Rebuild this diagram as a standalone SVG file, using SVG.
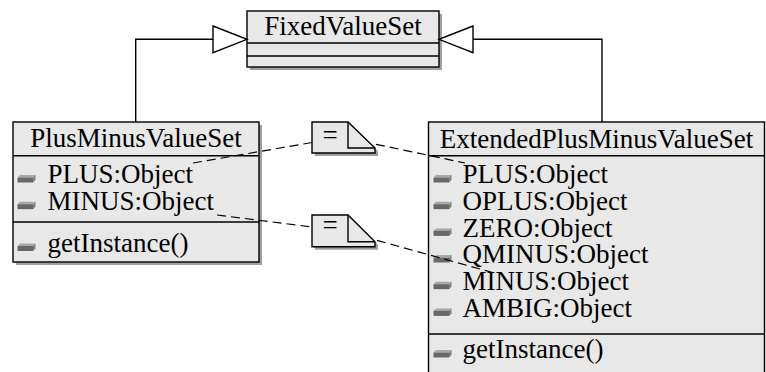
<svg xmlns="http://www.w3.org/2000/svg" width="766" height="372" viewBox="0 0 766 372">
<style>
.box{fill:#e8e8e8;stroke:#000;stroke-width:1.4}
.sh{fill:#a0a0a0}
.ln{fill:none;stroke:#000;stroke-width:1.4}
.dash{fill:none;stroke:#000;stroke-width:1.2;stroke-dasharray:9,5}
.tri{fill:#fff;stroke:#000;stroke-width:1.4}
text{font-family:"Liberation Serif","Times New Roman",serif;font-size:27px;fill:#000}
.c{text-anchor:middle}
</style>
<defs>
<g id="icon">
<polygon points="0,2.5 2.5,0 18,0 15.5,2.5" fill="#a8a8a8"/>
<polygon points="15.5,2.5 18,0 18,5 15.5,7.5" fill="#808080"/>
<rect x="0" y="2.5" width="15.5" height="5" fill="#686868"/>
</g>
</defs>
<rect width="766" height="372" fill="#fff"/>

<g id="FixedValueSet">
<rect class="sh" x="250" y="14" width="192" height="56"/>
<rect class="box" x="247" y="11" width="192" height="56"/>
<line class="ln" x1="247" y1="43" x2="439" y2="43"/>
<line class="ln" x1="247" y1="56" x2="439" y2="56"/>
<text class="c" x="343" y="35">FixedValueSet</text>
</g>

<g id="PlusMinusValueSet">
<rect class="sh" x="16" y="125" width="246" height="140"/>
<rect class="box" x="13" y="122" width="246" height="140"/>
<line class="ln" x1="13" y1="155.7" x2="259" y2="155.7"/>
<line class="ln" x1="13" y1="222" x2="259" y2="222"/>
<text class="c" x="136" y="147">PlusMinusValueSet</text>
<use href="#icon" x="17.5" y="175"/>
<text x="47.5" y="183.3">PLUS:Object</text>
<use href="#icon" x="17.5" y="201.7"/>
<text x="47.5" y="210">MINUS:Object</text>
<use href="#icon" x="17.5" y="243.5"/>
<text x="47.5" y="251.7">getInstance()</text>
</g>

<g id="ExtendedPlusMinusValueSet">
<rect class="box" x="428.5" y="122" width="336" height="260"/>
<line class="ln" x1="428.5" y1="155.7" x2="764.5" y2="155.7"/>
<line class="ln" x1="428.5" y1="334" x2="764.5" y2="334"/>
<text class="c" x="596.5" y="147.5">ExtendedPlusMinusValueSet</text>
<use href="#icon" x="433.5" y="175"/>
<text x="462.5" y="183.3">PLUS:Object</text>
<use href="#icon" x="433.5" y="201.7"/>
<text x="462.5" y="210">OPLUS:Object</text>
<use href="#icon" x="433.5" y="228.4"/>
<text x="462.5" y="236.7">ZERO:Object</text>
<use href="#icon" x="433.5" y="255"/>
<text x="462.5" y="263.3">QMINUS:Object</text>
<use href="#icon" x="433.5" y="281.7"/>
<text x="462.5" y="290">MINUS:Object</text>
<use href="#icon" x="433.5" y="308.4"/>
<text x="462.5" y="316.7">AMBIG:Object</text>
<use href="#icon" x="433.5" y="350"/>
<text x="462.5" y="358">getInstance()</text>
</g>

<g id="note1">
<path class="sh" d="M315,125 H351 L378,151 V156 H315 Z"/>
<path class="box" d="M312,122 H348 L375,148 V153 H312 Z"/>
<path class="ln" d="M348,122 V148 H375"/>
<text class="c" x="330" y="143.5">=</text>
</g>

<g id="note2">
<path class="sh" d="M315,218 H351 L378,244.7 V249.7 H315 Z"/>
<path class="box" d="M312,215 H348 L375,241.7 V246.7 H312 Z"/>
<path class="ln" d="M348,215 V241.7 H375"/>
<text class="c" x="330" y="234">=</text>
</g>

<g id="connectors">
<polyline class="ln" points="135.7,122 135.7,39.3 213,39.3"/>
<polygon class="tri" points="213,26 247,39.3 213,52.7"/>
<polyline class="ln" points="602,122 602,39.3 473,39.3"/>
<polygon class="tri" points="473,26 439,39.3 473,52.7"/>
<line class="dash" x1="193" y1="163" x2="312" y2="142.5"/>
<line class="dash" x1="376" y1="144.3" x2="465" y2="163"/>
<line class="dash" x1="217" y1="215" x2="312" y2="227"/>
<line class="dash" x1="377" y1="240.3" x2="498" y2="274"/>
</g>
</svg>
